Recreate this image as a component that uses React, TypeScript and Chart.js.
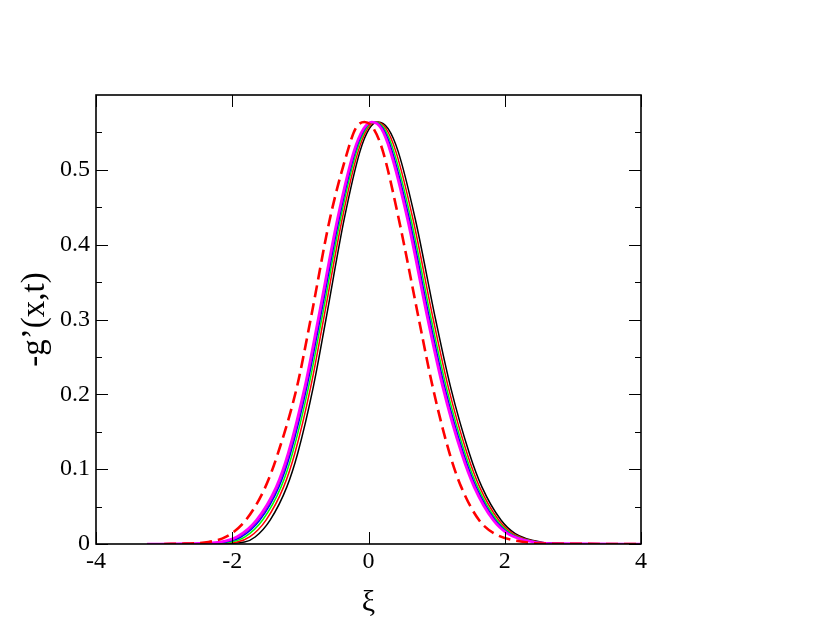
import React, { useEffect, useRef } from "react";
import { Chart, registerables } from "chart.js";

Chart.register(...registerables);

const Y_LEVELS = [0, 0.0005, 0.0027, 0.0094, 0.032, 0.076, 0.121, 0.21, 0.3, 0.434, 0.524, 0.555, 0.564, 0.555, 0.524, 0.434, 0.3, 0.21, 0.121, 0.076, 0.032, 0.0139, 0.0027, 0.0005, 0];

const X_BLACK = [-3.25, -2.2, -1.82, -1.664, -1.444, -1.2, -1.04, -0.81, -0.625, -0.357, -0.127, 0.012, 0.14, 0.288, 0.437, 0.687, 0.985, 1.204, 1.481, 1.666, 1.944, 2.154, 2.521, 2.9, 4.0];
const X_RED = [-3.25, -2.335, -1.928, -1.745, -1.504, -1.247, -1.082, -0.848, -0.66, -0.387, -0.154, -0.014, 0.113, 0.258, 0.403, 0.653, 0.951, 1.17, 1.447, 1.632, 1.91, 2.12, 2.49, 2.87, 4.0];
const X_GREEN = [-3.25, -2.448, -2.018, -1.813, -1.554, -1.285, -1.117, -0.879, -0.688, -0.412, -0.177, -0.035, 0.091, 0.233, 0.374, 0.624, 0.922, 1.141, 1.418, 1.603, 1.881, 2.092, 2.463, 2.845, 4.0];
const X_BLUE = [-3.25, -2.538, -2.09, -1.867, -1.594, -1.316, -1.145, -0.904, -0.711, -0.432, -0.195, -0.052, 0.073, 0.213, 0.351, 0.601, 0.899, 1.118, 1.395, 1.58, 1.858, 2.07, 2.442, 2.825, 4.0];
const X_VIOLET = [-3.25, -2.596, -2.137, -1.902, -1.62, -1.336, -1.163, -0.92, -0.726, -0.445, -0.206, -0.063, 0.061, 0.2, 0.336, 0.586, 0.884, 1.103, 1.38, 1.565, 1.843, 2.055, 2.429, 2.812, 4.0];
const X_MAGENTA = [-3.25, -2.65, -2.18, -1.934, -1.644, -1.355, -1.18, -0.935, -0.74, -0.457, -0.217, -0.073, 0.05, 0.188, 0.322, 0.572, 0.87, 1.089, 1.366, 1.551, 1.829, 2.042, 2.416, 2.8, 4.0];

// Dashed reference curve
const X_DASHED = [-3.0, -2.7, -2.35, -2.095, -1.8, -1.515, -1.33, -1.05, -0.85, -0.568, -0.31, -0.19, -0.06, 0.075, 0.214, 0.445, 0.74, 0.942, 1.19, 1.362, 1.622, 1.85, 2.28, 2.6, 4.0];

const X_MAJOR_TICKS = [-4, -2, 0, 2, 4];
const Y_MAJOR_TICKS = [0, 0.1, 0.2, 0.3, 0.4, 0.5];
const Y_MINOR_TICKS = [0.05, 0.15, 0.25, 0.35, 0.45, 0.55];

const X_TITLE = "ξ";
const Y_TITLE = "-g’(x,t)";

const FONT = "'Liberation Serif', serif";

const pts = (xs: number[], ys: number[]) => xs.map((x, i) => ({ x, y: ys[i] }));

const framePlugin = {
  id: "frameTicks",
  afterDraw(chart: any) {
    const { ctx, chartArea: a, scales } = chart;
    const xs = scales.x;
    const ys = scales.y;
    ctx.save();
    ctx.strokeStyle = "#000";
    ctx.lineWidth = 1;
    const line = (x1: number, y1: number, x2: number, y2: number) => {
      ctx.beginPath();
      ctx.moveTo(x1, y1);
      ctx.lineTo(x2, y2);
      ctx.stroke();
    };
    for (const v of X_MAJOR_TICKS) {
      const p = Math.round(xs.getPixelForValue(v)) + 0.5;
      line(p, a.bottom, p, a.bottom - 12);
      line(p, a.top, p, a.top + 12);
    }
    for (const v of Y_MAJOR_TICKS) {
      const p = Math.round(ys.getPixelForValue(v)) + 0.5;
      line(a.left, p, a.left + 12, p);
      line(a.right, p, a.right - 12, p);
    }
    for (const v of Y_MINOR_TICKS) {
      const p = Math.round(ys.getPixelForValue(v)) + 0.5;
      line(a.left, p, a.left + 6, p);
      line(a.right, p, a.right - 6, p);
    }
    ctx.lineWidth = 1.6;
    ctx.strokeRect(a.left, a.top, a.right - a.left, a.bottom - a.top);
    ctx.restore();
  },
};

export default function App() {
  const ref = useRef<HTMLCanvasElement | null>(null);
  useEffect(() => {
    if (!ref.current) return;
    const solid = (label: string, xs: number[], color: string, w: number) => ({
      label,
      data: pts(xs, Y_LEVELS),
      borderColor: color,
      borderWidth: w,
      pointRadius: 0,
      fill: false,
      cubicInterpolationMode: "monotone" as const,
    });
    const chart = new Chart(ref.current, {
      type: "line",
      data: {
        datasets: [
          {
            label: "dashed",
            data: pts(X_DASHED, Y_LEVELS),
            borderColor: "#ff0000",
            borderWidth: 2.6,
            borderDash: [12, 6],
            pointRadius: 0,
            fill: false,
            cubicInterpolationMode: "monotone",
          },
          solid("magenta", X_MAGENTA, "#ff00ff", 2.6),
          solid("violet", X_VIOLET, "#9400d3", 1.5),
          solid("blue", X_BLUE, "#0000ff", 1.5),
          solid("green", X_GREEN, "#00ff00", 1.5),
          solid("red", X_RED, "#ff0000", 1.5),
          solid("black", X_BLACK, "#000000", 1.5),
        ],
      },
      options: {
        responsive: false,
        animation: false,
        devicePixelRatio: 1,
        layout: { padding: { left: 0, top: 95, right: 189, bottom: 0 } },
        plugins: { legend: { display: false }, tooltip: { enabled: false } },
        scales: {
          x: {
            type: "linear",
            min: -4,
            max: 4,
            grid: { display: false, drawTicks: false },
            border: { display: false },
            ticks: {
              stepSize: 2,
              padding: 3,
              color: "#000",
              maxRotation: 0,
              font: { family: FONT, size: 24 },
              callback: (v: any) => String(v),
            },
            title: {
              display: true,
              text: X_TITLE,
              color: "#000",
              font: { family: FONT, size: 30 },
              padding: { top: 0, bottom: 21 },
            },
            afterFit: (s: any) => {
              s.height = 98;
            },
          },
          y: {
            type: "linear",
            min: 0,
            max: 0.6,
            grid: { display: false, drawTicks: false },
            border: { display: false },
            ticks: {
              stepSize: 0.1,
              padding: 6,
              color: "#000",
              font: { family: FONT, size: 24 },
              callback: (v: any) => (v >= 0.59 ? "" : String(Math.round(v * 10) / 10)),
            },
            title: {
              display: true,
              text: Y_TITLE,
              color: "#000",
              font: { family: FONT, size: 33 },
              padding: { top: 16, bottom: 0 },
            },
            afterFit: (s: any) => {
              s.width = 96;
            },
          },
        },
      },
      plugins: [framePlugin],
    });
    return () => chart.destroy();
  }, []);
  return (
    <div style={{ position: "fixed", left: 0, top: 0, width: 830, height: 642, background: "#fff" }}>
      <canvas ref={ref} width={830} height={642} style={{ width: 830, height: 642 }} />
    </div>
  );
}
